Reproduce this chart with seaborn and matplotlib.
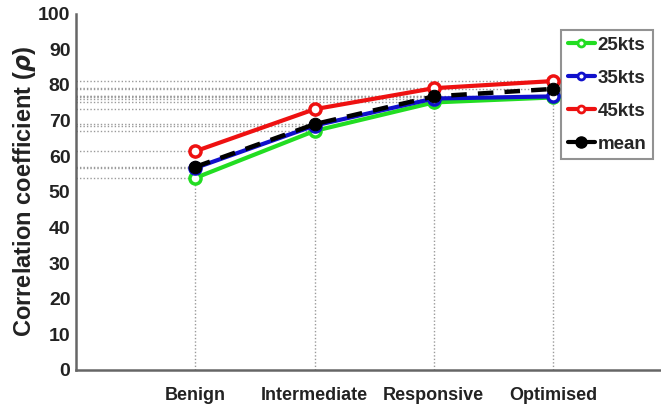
import matplotlib
matplotlib.use("Agg")
import matplotlib.pyplot as plt
import seaborn as sns
import pandas as pd
from matplotlib.lines import Line2D

categories = ["Benign", "Intermediate", "Responsive", "Optimised"]
kts25 = [53.9, 67.1, 75.1, 76.5]
kts35 = [56.7, 68.6, 76.2, 76.8]
kts45 = [61.4, 73.2, 79.1, 81.1]
mean_vals = [57.0, 69.0, 76.8, 78.9]
series_names = ["25kts", "35kts", "45kts", "mean"]
colors = {"25kts": "#22dd22", "35kts": "#1010cc", "45kts": "#ee1111", "mean": "#000000"}

sns.set_theme(style="white")
plt.rcParams["font.family"] = ["Liberation Sans", "DejaVu Sans"]
plt.rcParams["font.weight"] = "bold"

rows = []
for name, vals in zip(series_names, [kts25, kts35, kts45, mean_vals]):
    for c, v in zip(categories, vals):
        rows.append({"category": c, "value": v, "series": name})
df = pd.DataFrame(rows)

fig = plt.figure(figsize=(6.61, 4.09), dpi=100)
ax = fig.add_axes([0.115, 0.0954, 0.893, 0.871])

grid_c = "#9a9a9a"
# dotted guide lines
for vals in [kts25, kts35, kts45, mean_vals]:
    for i, v in enumerate(vals):
        ax.hlines(v, -1, i, colors=grid_c, linestyles=(0, (1, 1.5)), linewidth=1.0, zorder=1)
for i in range(len(categories)):
    ax.vlines(i, 0, max(kts25[i], kts35[i], kts45[i], mean_vals[i]), colors=grid_c,
              linestyles=(0, (1, 1.5)), linewidth=1.0, zorder=1)

for name in ["25kts", "35kts", "45kts"]:
    sub = df[df.series == name]
    sns.lineplot(data=sub, x="category", y="value", ax=ax, color=colors[name], linewidth=3,
                 marker="o", markersize=8, markerfacecolor="white", markeredgecolor=colors[name],
                 markeredgewidth=2.5, sort=False, zorder=3)
sub = df[df.series == "mean"]
sns.lineplot(data=sub, x="category", y="value", ax=ax, color="black", linewidth=3.2,
             marker="o", markersize=9, markerfacecolor="black", markeredgecolor="black",
             dashes=False, linestyle=(0, (3.5, 2.5)), sort=False, zorder=4)

ax.set_xlim(-1, 3.95)
ax.set_ylim(0, 100)
ax.set_yticks(range(0, 101, 10))
ax.set_xlabel("")
ax.set_ylabel("Correlation coefficient ($\\boldsymbol{\\rho}$)", fontsize=17, fontweight="bold",
              color="#222222", labelpad=0)
ax.tick_params(axis="y", direction="in", length=4, width=1.2, colors="#555555", labelsize=14,
               labelcolor="#222222", pad=4)
ax.tick_params(axis="x", length=0, labelsize=13, labelcolor="#222222", pad=12)
for lab in ax.get_xticklabels() + ax.get_yticklabels():
    lab.set_fontweight("bold")
for s in ["top", "right"]:
    ax.spines[s].set_visible(False)
for s in ["left", "bottom"]:
    ax.spines[s].set_color("#666666")
    ax.spines[s].set_linewidth(1.8)

handles = [
    Line2D([0], [0], color=colors["25kts"], lw=3, marker="o", ms=5, mfc="white", mec=colors["25kts"], mew=2),
    Line2D([0], [0], color=colors["35kts"], lw=3, marker="o", ms=5, mfc="white", mec=colors["35kts"], mew=2),
    Line2D([0], [0], color=colors["45kts"], lw=3, marker="o", ms=5, mfc="white", mec=colors["45kts"], mew=2),
    Line2D([0], [0], color="black", lw=3, marker="o", ms=8, mfc="black", mec="black"),
]
leg = ax.legend(handles, series_names, loc="upper right", bbox_to_anchor=(0.988, 0.927),
                bbox_transform=fig.transFigure, frameon=True, fancybox=False,
                prop={"weight": "bold", "size": 13.5}, handlelength=1.45, handletextpad=0.15,
                labelspacing=0.85, borderpad=0.35, borderaxespad=0)
leg.get_frame().set_edgecolor("#777777")
leg.get_frame().set_linewidth(1.5)
leg.set_zorder(2)

fig.savefig("out.png", dpi=100)
